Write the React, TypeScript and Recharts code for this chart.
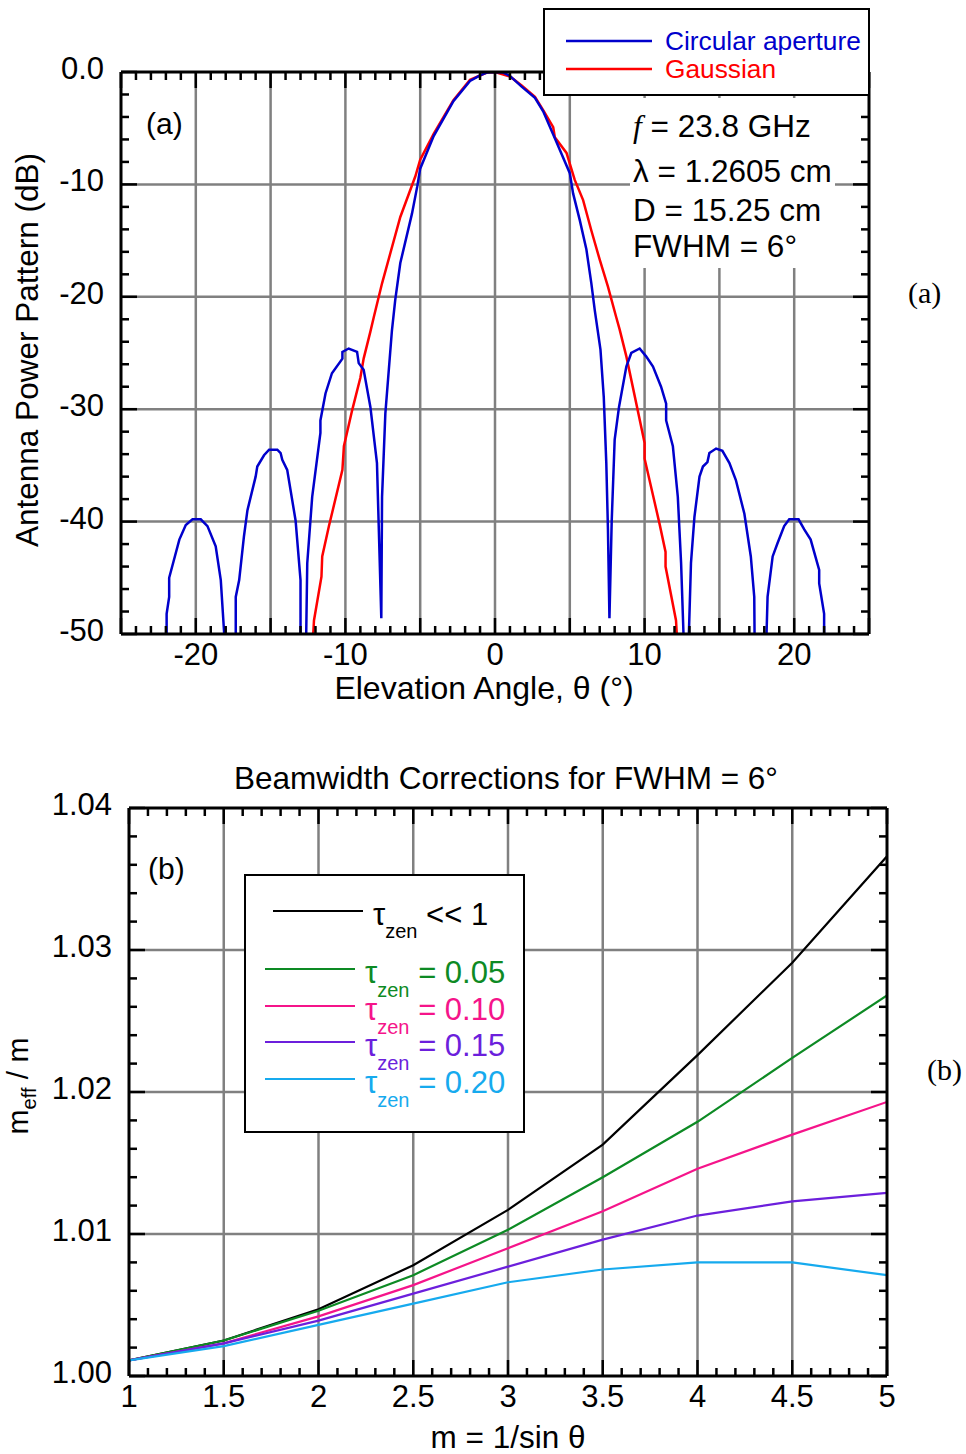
import { LineChart, Line, XAxis, YAxis, CartesianGrid } from 'recharts';

type Pt = { x: number; y: number | null };

// (a) antenna power pattern, dB vs elevation angle (deg); null = gap between lobes
const circular: Pt[] = [
  { x: -21.95, y: -50 }, { x: -21.95, y: -48.2 }, { x: -21.78, y: -46.7 }, { x: -21.78, y: -45.0 },
  { x: -21.1, y: -41.6 }, { x: -20.67, y: -40.3 }, { x: -20.22, y: -39.8 }, { x: -19.67, y: -39.8 },
  { x: -19.22, y: -40.4 }, { x: -18.67, y: -42.2 }, { x: -18.33, y: -45.2 }, { x: -18.1, y: -50 },
  { x: -17.7, y: null },
  { x: -17.33, y: -50 }, { x: -17.33, y: -46.7 }, { x: -17.1, y: -45.2 }, { x: -16.78, y: -41.3 },
  { x: -16.55, y: -39.0 }, { x: -16.0, y: -36.0 }, { x: -15.89, y: -35.1 }, { x: -15.44, y: -34.1 },
  { x: -15.1, y: -33.6 }, { x: -14.55, y: -33.6 }, { x: -14.33, y: -33.9 }, { x: -14.22, y: -34.5 },
  { x: -13.89, y: -35.4 }, { x: -13.33, y: -39.9 }, { x: -13.0, y: -45.2 }, { x: -13.0, y: -50 },
  { x: -12.8, y: null },
  { x: -12.62, y: -50 }, { x: -12.55, y: -43.7 }, { x: -12.22, y: -37.8 }, { x: -11.67, y: -32.1 },
  { x: -11.67, y: -31.0 }, { x: -11.33, y: -28.6 }, { x: -10.9, y: -26.8 }, { x: -10.2, y: -25.5 },
  { x: -10.2, y: -24.9 }, { x: -9.78, y: -24.6 }, { x: -9.22, y: -24.9 }, { x: -9.11, y: -25.9 },
  { x: -8.78, y: -26.5 }, { x: -8.33, y: -29.8 }, { x: -7.89, y: -34.8 }, { x: -7.6, y: -48.6 },
  { x: -7.55, y: -37.8 }, { x: -7.33, y: -30.4 }, { x: -6.89, y: -23.0 }, { x: -6.67, y: -20.3 },
  { x: -6.33, y: -17.0 }, { x: -5.55, y: -12.6 }, { x: -5.2, y: -10.2 }, { x: -5.0, y: -8.6 },
  { x: -4.1, y: -5.7 }, { x: -2.78, y: -2.6 }, { x: -1.67, y: -0.8 }, { x: -1.0, y: -0.3 },
  { x: -0.55, y: -0.05 }, { x: 0, y: 0 }, { x: 0.55, y: -0.05 }, { x: 1.0, y: -0.35 },
  { x: 1.78, y: -1.3 }, { x: 2.67, y: -2.3 }, { x: 3.22, y: -3.5 }, { x: 4.0, y: -5.9 },
  { x: 5.0, y: -9.0 }, { x: 5.22, y: -10.8 }, { x: 5.67, y: -13.2 }, { x: 6.11, y: -15.8 },
  { x: 6.44, y: -18.8 }, { x: 6.67, y: -21.2 }, { x: 7.05, y: -24.7 }, { x: 7.27, y: -28.9 },
  { x: 7.44, y: -34.8 }, { x: 7.55, y: -40.7 }, { x: 7.65, y: -48.6 }, { x: 7.8, y: -40.0 },
  { x: 8.0, y: -32.7 }, { x: 8.29, y: -29.8 }, { x: 8.78, y: -26.2 }, { x: 9.11, y: -25.0 },
  { x: 9.67, y: -24.6 }, { x: 10.1, y: -25.3 }, { x: 10.56, y: -26.2 }, { x: 11.1, y: -28.0 },
  { x: 11.44, y: -29.5 }, { x: 11.44, y: -31.0 }, { x: 11.89, y: -33.3 }, { x: 12.22, y: -37.8 },
  { x: 12.44, y: -43.7 }, { x: 12.6, y: -50 },
  { x: 12.8, y: null },
  { x: 12.96, y: -50 }, { x: 13.1, y: -43.7 }, { x: 13.33, y: -39.6 }, { x: 13.67, y: -36.0 },
  { x: 13.9, y: -35.1 }, { x: 14.2, y: -34.7 }, { x: 14.33, y: -33.9 }, { x: 14.78, y: -33.5 },
  { x: 15.2, y: -33.7 }, { x: 15.67, y: -34.8 }, { x: 16.1, y: -36.3 }, { x: 16.67, y: -39.3 },
  { x: 17.1, y: -43.1 }, { x: 17.33, y: -46.7 }, { x: 17.35, y: -50 },
  { x: 17.7, y: null },
  { x: 18.15, y: -50 }, { x: 18.22, y: -46.7 }, { x: 18.56, y: -43.1 }, { x: 18.89, y: -41.9 },
  { x: 19.33, y: -40.4 }, { x: 19.67, y: -39.8 }, { x: 20.29, y: -39.8 }, { x: 20.67, y: -40.7 },
  { x: 21.1, y: -41.6 }, { x: 21.67, y: -44.3 }, { x: 21.67, y: -45.5 }, { x: 22.0, y: -48.2 },
  { x: 22.0, y: -50 },
];

const gaussian: Pt[] = [
  { x: -12.15, y: -50 }, { x: -12.1, y: -48.8 }, { x: -11.6, y: -44.9 }, { x: -11.55, y: -43.1 },
  { x: -11.1, y: -40.4 }, { x: -10.2, y: -35.4 }, { x: -10.1, y: -33.3 }, { x: -9.55, y: -30.1 },
  { x: -9.0, y: -27.2 }, { x: -8.78, y: -25.5 }, { x: -8.33, y: -23.1 }, { x: -8.1, y: -21.8 },
  { x: -7.55, y: -18.8 }, { x: -6.33, y: -12.9 }, { x: -5.33, y: -9.3 }, { x: -5.0, y: -7.8 },
  { x: -4.1, y: -5.5 }, { x: -2.78, y: -2.5 }, { x: -1.67, y: -0.7 }, { x: -0.55, y: -0.05 },
  { x: 0, y: 0 }, { x: 1.0, y: -0.4 }, { x: 1.78, y: -1.2 }, { x: 2.67, y: -2.2 },
  { x: 3.22, y: -3.4 }, { x: 3.89, y: -4.9 }, { x: 4.0, y: -5.8 }, { x: 4.78, y: -7.2 },
  { x: 5.33, y: -9.6 }, { x: 5.89, y: -11.4 }, { x: 6.44, y: -14.1 }, { x: 7.0, y: -16.7 },
  { x: 7.55, y: -19.1 }, { x: 8.1, y: -21.8 }, { x: 8.33, y: -22.9 }, { x: 8.78, y: -25.3 },
  { x: 10.0, y: -33.0 }, { x: 10.0, y: -34.4 }, { x: 11.0, y: -40.2 }, { x: 11.4, y: -42.7 },
  { x: 11.4, y: -44.0 }, { x: 12.1, y: -48.8 }, { x: 12.15, y: -50 },
];

// (b) beamwidth corrections m_eff/m vs airmass m
const airmass = [1, 1.5, 2, 2.5, 3, 3.5, 4, 4.5, 5];
const tauThin = [1.0011, 1.0025, 1.0047, 1.0078, 1.0117, 1.0163, 1.0226, 1.0291, 1.0366];
const tau05 = [1.0011, 1.0025, 1.0046, 1.0071, 1.0103, 1.014, 1.0179, 1.0224, 1.0268];
const tau10 = [1.0011, 1.0023, 1.0042, 1.0064, 1.009, 1.0116, 1.0146, 1.017, 1.0193];
const tau15 = [1.0011, 1.0023, 1.0039, 1.0058, 1.0077, 1.0096, 1.0113, 1.0123, 1.0129];
const tau20 = [1.0011, 1.0021, 1.0036, 1.0051, 1.0066, 1.0075, 1.008, 1.008, 1.0071];

const beamRows = airmass.map((m, i) => ({
  m, thin: tauThin[i], t05: tau05[i], t10: tau10[i], t15: tau15[i], t20: tau20[i],
}));

const seriesB = [
  { key: 'thin', color: '#000000' },
  { key: 't05', color: '#0d8a24' },
  { key: 't10', color: '#f5148a' },
  { key: 't15', color: '#6c1fdc' },
  { key: 't20', color: '#16aaee' },
];

const step = (a: number, b: number, d: number) =>
  Array.from({ length: Math.round((b - a) / d) + 1 }, (_, i) => +(a + i * d).toFixed(4));

const angleTicks = step(-25, 25, 1);
const angleMajor = step(-25, 25, 5);
const angleLabels = [-20, -10, 0, 10, 20];
const angleGrid = [-20, -15, -10, -5, 0, 5, 10, 15, 20];
const dbTicks = step(-50, 0, 2);
const dbMajor = step(-50, 0, 10);
const dbGrid = [-40, -30, -20, -10];

const mTicks = step(1, 5, 0.1);
const mMajor = step(1, 5, 0.5);
const mGrid = [1.5, 2, 2.5, 3, 3.5, 4, 4.5];
const ratioTicks = step(1, 1.04, 0.002);
const ratioMajor = [1, 1.01, 1.02, 1.03, 1.04];
const ratioGrid = [1.01, 1.02, 1.03];

const FONT = '"Liberation Sans", Arial, sans-serif';
const SERIF = '"Liberation Serif", serif';
const axisLine = { stroke: '#000', strokeWidth: 3 };

function EdgeTick(props: any) {
  const { x, y, payload, side, majors, labels, fmt } = props;
  const v = payload.value as number;
  const near = (arr: number[]) => arr.some((a) => Math.abs(a - v) < 1e-7);
  const len = near(majors) ? 16 : 8;
  let x2 = x;
  let y2 = y;
  if (side === 'bottom') y2 = y - len;
  if (side === 'top') y2 = y + len;
  if (side === 'left') x2 = x + len;
  if (side === 'right') x2 = x - len;
  const show = labels && near(labels);
  return (
    <g>
      <line x1={x} y1={y} x2={x2} y2={y2} stroke="#000" strokeWidth={2.5} />
      {show && side === 'bottom' && (
        <text x={x} y={y + 31} textAnchor="middle" fontSize={31} fontFamily={FONT} fill="#000">
          {fmt(v)}
        </text>
      )}
      {show && side === 'left' && (
        <text x={x - 17} y={y + 7} textAnchor="end" fontSize={31} fontFamily={FONT} fill="#000">
          {fmt(v)}
        </text>
      )}
    </g>
  );
}

function PatternChart() {
  return (
    <LineChart width={966} height={720} margin={{ top: 71, right: 96, bottom: 6, left: 11 }}>
      <CartesianGrid
        xAxisId="b"
        yAxisId="l"
        stroke="#808080"
        strokeWidth={2.5}
        verticalValues={angleGrid}
        horizontalValues={dbGrid}
      />
      <Line xAxisId="b" yAxisId="l" data={gaussian} dataKey="y" type="linear" stroke="#ff0000"
        strokeWidth={2.5} dot={false} isAnimationActive={false} />
      <Line xAxisId="b" yAxisId="l" data={circular} dataKey="y" type="linear" stroke="#0000cc"
        strokeWidth={2.5} dot={false} isAnimationActive={false} />
      {/* unstroked copy so the top and right frame axes get a scale */}
      <Line xAxisId="t" yAxisId="r" data={gaussian} dataKey="y" type="linear" stroke="none"
        dot={false} activeDot={false} legendType="none" isAnimationActive={false} />
      <XAxis xAxisId="b" type="number" dataKey="x" domain={[-25, 25]} ticks={angleTicks} interval={0}
        allowDataOverflow height={80} tickSize={0} tickMargin={0} tickLine={false} axisLine={axisLine}
        tick={<EdgeTick side="bottom" majors={angleMajor} labels={angleLabels} fmt={(v: number) => String(v)} />} />
      <XAxis xAxisId="t" orientation="top" type="number" dataKey="x" domain={[-25, 25]} ticks={angleTicks} interval={0}
        allowDataOverflow height={1} tickSize={0} tickMargin={0} tickLine={false} axisLine={axisLine}
        tick={<EdgeTick side="top" majors={angleMajor} />} />
      <YAxis yAxisId="l" type="number" domain={[-50, 0]} ticks={dbTicks} interval={0}
        allowDataOverflow width={110} tickSize={0} tickMargin={0} tickLine={false} axisLine={axisLine}
        tick={<EdgeTick side="left" majors={dbMajor} labels={dbMajor} fmt={(v: number) => (v === 0 ? '0.0' : String(v))} />} />
      <YAxis yAxisId="r" orientation="right" type="number" domain={[-50, 0]} ticks={dbTicks} interval={0}
        allowDataOverflow width={1} tickSize={0} tickMargin={0} tickLine={false} axisLine={axisLine}
        tick={<EdgeTick side="right" majors={dbMajor} />} />
    </LineChart>
  );
}

function BeamChart() {
  return (
    <LineChart width={966} height={734} data={beamRows} margin={{ top: 87, right: 78, bottom: 8, left: 9 }}>
      <CartesianGrid
        xAxisId="b"
        yAxisId="l"
        stroke="#808080"
        strokeWidth={2.5}
        verticalValues={mGrid}
        horizontalValues={ratioGrid}
      />
      {seriesB.map((s) => (
        <Line key={s.key} xAxisId="b" yAxisId="l" dataKey={s.key} type="linear" stroke={s.color}
          strokeWidth={2.2} dot={false} isAnimationActive={false} />
      ))}
      <Line xAxisId="t" yAxisId="r" dataKey="thin" type="linear" stroke="none"
        dot={false} activeDot={false} legendType="none" isAnimationActive={false} />
      <XAxis xAxisId="b" type="number" dataKey="m" domain={[1, 5]} ticks={mTicks} interval={0}
        allowDataOverflow height={70} tickSize={0} tickMargin={0} tickLine={false} axisLine={axisLine}
        tick={<EdgeTick side="bottom" majors={mMajor} labels={mMajor} fmt={(v: number) => String(v)} />} />
      <XAxis xAxisId="t" orientation="top" type="number" dataKey="m" domain={[1, 5]} ticks={mTicks} interval={0}
        allowDataOverflow height={1} tickSize={0} tickMargin={0} tickLine={false} axisLine={axisLine}
        tick={<EdgeTick side="top" majors={mMajor} />} />
      <YAxis yAxisId="l" type="number" domain={[1, 1.04]} ticks={ratioTicks} interval={0}
        allowDataOverflow width={120} tickSize={0} tickMargin={0} tickLine={false} axisLine={axisLine}
        tick={<EdgeTick side="left" majors={ratioMajor} labels={ratioMajor} fmt={(v: number) => v.toFixed(2)} />} />
      <YAxis yAxisId="r" orientation="right" type="number" domain={[1, 1.04]} ticks={ratioTicks} interval={0}
        allowDataOverflow width={1} tickSize={0} tickMargin={0} tickLine={false} axisLine={axisLine}
        tick={<EdgeTick side="right" majors={ratioMajor} />} />
    </LineChart>
  );
}

const tauLegend = [
  { color: '#0d8a24', text: '= 0.05', y: 969 },
  { color: '#f5148a', text: '= 0.10', y: 1006 },
  { color: '#6c1fdc', text: '= 0.15', y: 1042 },
  { color: '#16aaee', text: '= 0.20', y: 1079 },
];

function Overlay() {
  return (
    <svg width={966} height={1454} style={{ position: 'absolute', left: 0, top: 0, pointerEvents: 'none' }}
      fontFamily={FONT}>
      {/* panel (a) */}
      <text transform="translate(38,350) rotate(-90)" textAnchor="middle" fontSize={31.5}>
        Antenna Power Pattern (dB)
      </text>
      <text x={484} y={699} textAnchor="middle" fontSize={32}>Elevation Angle, θ (°)</text>
      <text x={146} y={134} fontSize={30}>(a)</text>
      <rect x={630} y={98} width={205} height={170} fill="#fff" />
      <text x={633} y={137} fontSize={31.5}>
        <tspan fontFamily={SERIF} fontStyle="italic">f</tspan> = 23.8 GHz
      </text>
      <text x={633} y={182} fontSize={31.5}>λ = 1.2605 cm</text>
      <text x={633} y={221} fontSize={31.5}>D = 15.25 cm</text>
      <text x={633} y={257} fontSize={31.5}>FWHM = 6°</text>
      <rect x={544} y={9} width={325} height={86} fill="#fff" stroke="#000" strokeWidth={2} />
      <line x1={566} y1={41} x2={652} y2={41} stroke="#0000cc" strokeWidth={2.5} />
      <text x={665} y={50} fontSize={26.3} fill="#0000cc">Circular aperture</text>
      <line x1={566} y1={69} x2={652} y2={69} stroke="#ff0000" strokeWidth={2.5} />
      <text x={665} y={78} fontSize={26.3} fill="#ff0000">Gaussian</text>
      <text x={908} y={303} fontSize={30} fontFamily={SERIF}>(a)</text>

      {/* panel (b) */}
      <text x={506} y={789} textAnchor="middle" fontSize={31.5}>Beamwidth Corrections for FWHM = 6°</text>
      <text x={148} y={879} fontSize={30}>(b)</text>
      <text transform="translate(28,1086) rotate(-90)" textAnchor="middle" fontSize={30}>
        m<tspan fontSize={20} dy={8}>eff</tspan><tspan dy={-8}> / m</tspan>
      </text>
      <text x={508} y={1448} textAnchor="middle" fontSize={31.5}>m = 1/sin θ</text>
      <rect x={245} y={875} width={279} height={257} fill="#fff" stroke="#000" strokeWidth={2} />
      <line x1={273} y1={911} x2={363} y2={911} stroke="#000" strokeWidth={2.2} />
      <text x={373} y={925} fontSize={31}>
        τ<tspan fontSize={20} dy={13}>zen</tspan><tspan dy={-13}> &lt;&lt; 1</tspan>
      </text>
      {tauLegend.map((t) => (
        <g key={t.text}>
          <line x1={265} y1={t.y} x2={355} y2={t.y} stroke={t.color} strokeWidth={2.2} />
          <text x={365} y={t.y + 14} fontSize={31} fill={t.color}>
            τ<tspan fontSize={20} dy={14}>zen</tspan><tspan dy={-14}> {t.text}</tspan>
          </text>
        </g>
      ))}
      <text x={927} y={1080} fontSize={30} fontFamily={SERIF}>(b)</text>
    </svg>
  );
}

export default function App() {
  return (
    <div style={{ position: 'absolute', left: 0, top: 0, width: 966, height: 1454, background: '#fff', fontFamily: FONT }}>
      <div style={{ position: 'absolute', left: 0, top: 0 }}>
        <PatternChart />
      </div>
      <div style={{ position: 'absolute', left: 0, top: 720 }}>
        <BeamChart />
      </div>
      <Overlay />
    </div>
  );
}
